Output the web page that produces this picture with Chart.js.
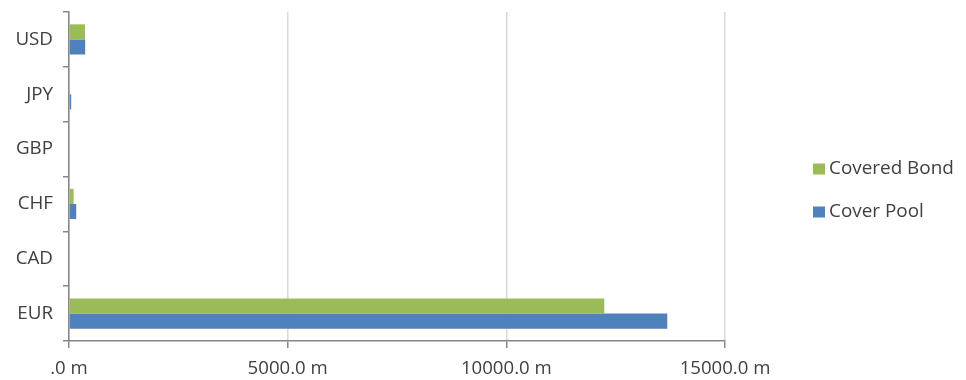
<!DOCTYPE html>
<html>
<head>
<meta charset="utf-8">
<script src="https://cdn.jsdelivr.net/npm/chart.js@4/dist/chart.umd.min.js"></script>
<style>
  html, body { margin: 0; padding: 0; background: #ffffff; }
  #wrap { width: 966px; height: 380px; position: relative; }
</style>
</head>
<body>
<div id="wrap"><canvas id="c" width="966" height="380"></canvas></div>
<script>
const categories = ['USD', 'JPY', 'GBP', 'CHF', 'CAD', 'EUR'];
const coveredBond = [365, 0, 0, 105, 0, 12240];
const coverPool = [370, 50, 0, 165, 0, 13680];
const seriesNames = ['Covered Bond', 'Cover Pool'];
const xTickLabels = ['.0 m', '5000.0 m', '10000.0 m', '15000.0 m'];

const FONT = '"Open Sans", "Liberation Sans", sans-serif';
const TEXT = '#404040';
const AXIS = '#868686';

const legendPlugin = {
  id: 'sideLegend',
  afterDraw(chart) {
    const ctx = chart.ctx;
    ctx.save();
    ctx.font = '18.9px ' + FONT;
    ctx.textBaseline = 'middle';
    ctx.textAlign = 'left';
    chart.data.datasets.forEach((ds, i) => {
      const y = 169 + i * 43;
      ctx.fillStyle = ds.backgroundColor;
      ctx.fillRect(813, y - 5.5, 12, 11);
      ctx.fillStyle = TEXT;
      ctx.fillText(ds.label, 829, y);
    });
    ctx.restore();
  }
};

new Chart(document.getElementById('c'), {
  type: 'bar',
  data: {
    labels: categories,
    datasets: [
      { label: seriesNames[0], data: coveredBond, backgroundColor: '#9BBB59', borderWidth: 0 },
      { label: seriesNames[1], data: coverPool, backgroundColor: '#4F81BD', borderWidth: 0 }
    ]
  },
  options: {
    indexAxis: 'y',
    responsive: false,
    animation: false,
    devicePixelRatio: 1,
    categoryPercentage: 0.55,
    barPercentage: 1.0,
    layout: { padding: { left: 0, right: 241, top: 12, bottom: 0 } },
    plugins: {
      legend: { display: false },
      tooltip: { enabled: false }
    },
    scales: {
      x: {
        min: 0,
        max: 15000,
        ticks: {
          stepSize: 5000,
          color: TEXT,
          font: { family: FONT, size: 18.6 },
          padding: 10,
          maxRotation: 0,
          autoSkip: false,
          callback: (v, i) => xTickLabels[i]
        },
        grid: {
          color: '#d9d9d9',
          lineWidth: 1.5,
          tickColor: AXIS,
          tickLength: 7,
          drawTicks: true
        },
        border: { display: true, color: AXIS, width: 1.5 },
        afterFit(scale) { scale.height = 39; }
      },
      y: {
        ticks: {
          color: TEXT,
          font: { family: FONT, size: 18.8 },
          padding: 10
        },
        grid: {
          offset: true,
          drawOnChartArea: false,
          drawTicks: true,
          tickLength: 6,
          color: AXIS,
          lineWidth: 1.5
        },
        border: { display: true, color: AXIS, width: 1.5 },
        afterFit(scale) {
          scale.width = 69;
          scale.paddingTop = 0;
          scale.paddingBottom = 0;
        }
      }
    }
  },
  plugins: [legendPlugin]
});
</script>
</body>
</html>
